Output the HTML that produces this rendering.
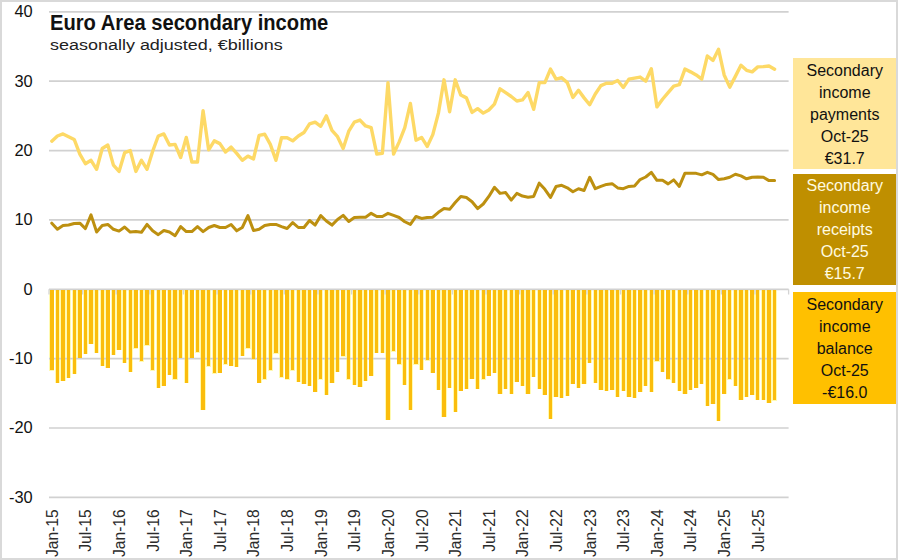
<!DOCTYPE html>
<html><head><meta charset="utf-8"><title>Euro Area secondary income</title>
<style>
html,body{margin:0;padding:0;background:#fff;}
body{width:898px;height:560px;position:relative;overflow:hidden;font-family:"Liberation Sans",sans-serif;}
svg text{font-family:"Liberation Sans",sans-serif;}
.frame{position:absolute;left:0;top:0;width:898px;height:560px;box-sizing:border-box;border:2px solid #d9d9d9;border-top-width:2px;}
.ttl{position:absolute;left:50px;top:11.3px;font-weight:bold;font-size:21.4px;line-height:24px;color:#111;white-space:nowrap;transform-origin:0 0;transform:scaleX(0.9427);}
.sub{position:absolute;left:50px;top:35.1px;font-size:15.5px;line-height:20px;color:#222;white-space:nowrap;transform-origin:0 0;transform:scaleX(1.159);}
.lg{position:absolute;left:793px;width:103.5px;text-align:center;font-size:16px;line-height:22px;color:#111;box-sizing:border-box;}
</style></head><body>
<svg width="898" height="560" viewBox="0 0 898 560" style="position:absolute;left:0;top:0">
<path d="M49.20 290.00h5.20v80.95h-5.20zM54.80 290.00h5.20v93.16h-5.20zM60.41 290.00h5.20v91.22h-5.20zM66.01 290.00h5.20v88.16h-5.20zM71.61 290.00h5.20v84.07h-5.20zM77.22 290.00h5.20v68.47h-5.20zM82.82 290.00h5.20v64.24h-5.20zM88.42 290.00h5.20v54.39h-5.20zM94.03 290.00h5.20v63.13h-5.20zM99.63 290.00h5.20v76.10h-5.20zM105.23 290.00h5.20v78.18h-5.20zM110.83 290.00h5.20v65.00h-5.20zM116.44 290.00h5.20v60.14h-5.20zM122.04 290.00h5.20v73.04h-5.20zM127.64 290.00h5.20v82.13h-5.20zM133.25 290.00h5.20v58.76h-5.20zM138.85 290.00h5.20v71.93h-5.20zM144.45 290.00h5.20v55.98h-5.20zM150.06 290.00h5.20v80.95h-5.20zM155.66 290.00h5.20v98.29h-5.20zM161.26 290.00h5.20v96.21h-5.20zM166.86 290.00h5.20v85.11h-5.20zM172.47 290.00h5.20v89.97h-5.20zM178.07 290.00h5.20v68.47h-5.20zM183.67 290.00h5.20v93.16h-5.20zM189.28 290.00h5.20v68.47h-5.20zM194.88 290.00h5.20v62.85h-5.20zM200.48 290.00h5.20v120.00h-5.20zM206.09 290.00h5.20v76.79h-5.20zM211.69 290.00h5.20v83.93h-5.20zM217.29 290.00h5.20v83.03h-5.20zM222.89 290.00h5.20v74.99h-5.20zM228.50 290.00h5.20v76.10h-5.20zM234.10 290.00h5.20v77.14h-5.20zM239.70 290.00h5.20v66.18h-5.20zM245.31 290.00h5.20v58.76h-5.20zM250.91 290.00h5.20v69.85h-5.20zM256.51 290.00h5.20v93.16h-5.20zM262.12 290.00h5.20v89.97h-5.20zM267.72 290.00h5.20v80.95h-5.20zM273.32 290.00h5.20v63.61h-5.20zM278.92 290.00h5.20v87.89h-5.20zM284.53 290.00h5.20v89.97h-5.20zM290.13 290.00h5.20v80.95h-5.20zM295.73 290.00h5.20v92.05h-5.20zM301.34 290.00h5.20v94.13h-5.20zM306.94 290.00h5.20v96.21h-5.20zM312.54 290.00h5.20v102.31h-5.20zM318.15 290.00h5.20v89.97h-5.20zM323.75 290.00h5.20v105.23h-5.20zM329.35 290.00h5.20v93.16h-5.20zM334.95 290.00h5.20v82.13h-5.20zM340.56 290.00h5.20v66.94h-5.20zM346.16 290.00h5.20v89.97h-5.20zM351.76 290.00h5.20v95.31h-5.20zM357.37 290.00h5.20v97.25h-5.20zM362.97 290.00h5.20v91.22h-5.20zM368.57 290.00h5.20v86.22h-5.20zM374.18 290.00h5.20v63.13h-5.20zM379.78 290.00h5.20v63.13h-5.20zM385.38 290.00h5.20v130.20h-5.20zM390.98 290.00h5.20v61.95h-5.20zM396.59 290.00h5.20v74.99h-5.20zM402.19 290.00h5.20v95.31h-5.20zM407.79 290.00h5.20v120.00h-5.20zM413.40 290.00h5.20v74.99h-5.20zM419.00 290.00h5.20v80.12h-5.20zM424.60 290.00h5.20v70.76h-5.20zM430.21 290.00h5.20v83.03h-5.20zM435.81 290.00h5.20v100.37h-5.20zM441.41 290.00h5.20v127.14h-5.20zM447.01 290.00h5.20v98.29h-5.20zM452.62 290.00h5.20v122.01h-5.20zM458.22 290.00h5.20v101.07h-5.20zM463.82 290.00h5.20v99.26h-5.20zM469.43 290.00h5.20v89.27h-5.20zM475.03 290.00h5.20v99.26h-5.20zM480.63 290.00h5.20v89.97h-5.20zM486.24 290.00h5.20v86.22h-5.20zM491.84 290.00h5.20v83.03h-5.20zM497.44 290.00h5.20v104.39h-5.20zM503.04 290.00h5.20v99.26h-5.20zM508.65 290.00h5.20v104.39h-5.20zM514.25 290.00h5.20v92.05h-5.20zM519.85 290.00h5.20v96.21h-5.20zM525.46 290.00h5.20v104.39h-5.20zM531.06 290.00h5.20v87.19h-5.20zM536.66 290.00h5.20v99.26h-5.20zM542.27 290.00h5.20v105.23h-5.20zM547.87 290.00h5.20v129.16h-5.20zM553.47 290.00h5.20v107.31h-5.20zM559.07 290.00h5.20v108.35h-5.20zM564.68 290.00h5.20v106.41h-5.20zM570.28 290.00h5.20v94.13h-5.20zM575.88 290.00h5.20v98.29h-5.20zM581.49 290.00h5.20v94.13h-5.20zM587.09 290.00h5.20v73.04h-5.20zM592.69 290.00h5.20v93.16h-5.20zM598.30 290.00h5.20v100.37h-5.20zM603.90 290.00h5.20v101.07h-5.20zM609.50 290.00h5.20v100.37h-5.20zM615.10 290.00h5.20v107.31h-5.20zM620.71 290.00h5.20v101.07h-5.20zM626.31 290.00h5.20v107.10h-5.20zM631.91 290.00h5.20v108.35h-5.20zM637.52 290.00h5.20v102.31h-5.20zM643.12 290.00h5.20v96.21h-5.20zM648.72 290.00h5.20v102.31h-5.20zM654.33 290.00h5.20v71.93h-5.20zM659.93 290.00h5.20v82.13h-5.20zM665.53 290.00h5.20v89.97h-5.20zM671.13 290.00h5.20v93.16h-5.20zM676.74 290.00h5.20v101.07h-5.20zM682.34 290.00h5.20v104.39h-5.20zM687.94 290.00h5.20v100.37h-5.20zM693.55 290.00h5.20v98.29h-5.20zM699.15 290.00h5.20v94.13h-5.20zM704.75 290.00h5.20v116.26h-5.20zM710.36 290.00h5.20v114.45h-5.20zM715.96 290.00h5.20v131.10h-5.20zM721.56 290.00h5.20v104.39h-5.20zM727.16 290.00h5.20v89.97h-5.20zM732.77 290.00h5.20v96.21h-5.20zM738.37 290.00h5.20v110.08h-5.20zM743.97 290.00h5.20v107.10h-5.20zM749.58 290.00h5.20v105.23h-5.20zM755.18 290.00h5.20v110.08h-5.20zM760.78 290.00h5.20v110.08h-5.20zM766.39 290.00h5.20v113.20h-5.20zM771.99 290.00h5.20v110.78h-5.20z" fill="#fffab2" shape-rendering="crispEdges"/>
<line x1="49" x2="788.6" y1="11.86" y2="11.86" stroke="#d1d1d1" stroke-width="1.7"/>
<line x1="49" x2="788.6" y1="81.22" y2="81.22" stroke="#d1d1d1" stroke-width="1.7"/>
<line x1="49" x2="788.6" y1="150.58" y2="150.58" stroke="#d1d1d1" stroke-width="1.7"/>
<line x1="49" x2="788.6" y1="219.94" y2="219.94" stroke="#d1d1d1" stroke-width="1.7"/>
<line x1="49" x2="788.6" y1="289.30" y2="289.30" stroke="#d1d1d1" stroke-width="1.7"/>
<line x1="49" x2="788.6" y1="358.66" y2="358.66" stroke="#d1d1d1" stroke-width="1.7"/>
<line x1="49" x2="788.6" y1="428.02" y2="428.02" stroke="#d1d1d1" stroke-width="1.7"/>
<line x1="49" x2="788.6" y1="497.38" y2="497.38" stroke="#d1d1d1" stroke-width="1.7"/>
<path d="M49.00 289.30V294.60M82.62 289.30V294.60M116.24 289.30V294.60M149.85 289.30V294.60M183.47 289.30V294.60M217.09 289.30V294.60M250.71 289.30V294.60M284.33 289.30V294.60M317.94 289.30V294.60M351.56 289.30V294.60M385.18 289.30V294.60M418.80 289.30V294.60M452.42 289.30V294.60M486.03 289.30V294.60M519.65 289.30V294.60M553.27 289.30V294.60M586.89 289.30V294.60M620.51 289.30V294.60M654.12 289.30V294.60M687.74 289.30V294.60M721.36 289.30V294.60M754.98 289.30V294.60M788.60 289.30V294.60" stroke="#d4d4d4" stroke-width="1.3" fill="none"/>
<path d="M50.10 290.00h3.40v80.45h-3.40zM55.70 290.00h3.40v92.66h-3.40zM61.31 290.00h3.40v90.72h-3.40zM66.91 290.00h3.40v87.66h-3.40zM72.51 290.00h3.40v83.57h-3.40zM78.12 290.00h3.40v67.97h-3.40zM83.72 290.00h3.40v63.74h-3.40zM89.32 290.00h3.40v53.89h-3.40zM94.93 290.00h3.40v62.63h-3.40zM100.53 290.00h3.40v75.60h-3.40zM106.13 290.00h3.40v77.68h-3.40zM111.73 290.00h3.40v64.50h-3.40zM117.34 290.00h3.40v59.64h-3.40zM122.94 290.00h3.40v72.54h-3.40zM128.54 290.00h3.40v81.63h-3.40zM134.15 290.00h3.40v58.26h-3.40zM139.75 290.00h3.40v71.43h-3.40zM145.35 290.00h3.40v55.48h-3.40zM150.96 290.00h3.40v80.45h-3.40zM156.56 290.00h3.40v97.79h-3.40zM162.16 290.00h3.40v95.71h-3.40zM167.76 290.00h3.40v84.61h-3.40zM173.37 290.00h3.40v89.47h-3.40zM178.97 290.00h3.40v67.97h-3.40zM184.57 290.00h3.40v92.66h-3.40zM190.18 290.00h3.40v67.97h-3.40zM195.78 290.00h3.40v62.35h-3.40zM201.38 290.00h3.40v119.50h-3.40zM206.99 290.00h3.40v76.29h-3.40zM212.59 290.00h3.40v83.43h-3.40zM218.19 290.00h3.40v82.53h-3.40zM223.79 290.00h3.40v74.49h-3.40zM229.40 290.00h3.40v75.60h-3.40zM235.00 290.00h3.40v76.64h-3.40zM240.60 290.00h3.40v65.68h-3.40zM246.21 290.00h3.40v58.26h-3.40zM251.81 290.00h3.40v69.35h-3.40zM257.41 290.00h3.40v92.66h-3.40zM263.02 290.00h3.40v89.47h-3.40zM268.62 290.00h3.40v80.45h-3.40zM274.22 290.00h3.40v63.11h-3.40zM279.82 290.00h3.40v87.39h-3.40zM285.43 290.00h3.40v89.47h-3.40zM291.03 290.00h3.40v80.45h-3.40zM296.63 290.00h3.40v91.55h-3.40zM302.24 290.00h3.40v93.63h-3.40zM307.84 290.00h3.40v95.71h-3.40zM313.44 290.00h3.40v101.81h-3.40zM319.05 290.00h3.40v89.47h-3.40zM324.65 290.00h3.40v104.73h-3.40zM330.25 290.00h3.40v92.66h-3.40zM335.85 290.00h3.40v81.63h-3.40zM341.46 290.00h3.40v66.44h-3.40zM347.06 290.00h3.40v89.47h-3.40zM352.66 290.00h3.40v94.81h-3.40zM358.27 290.00h3.40v96.75h-3.40zM363.87 290.00h3.40v90.72h-3.40zM369.47 290.00h3.40v85.72h-3.40zM375.08 290.00h3.40v62.63h-3.40zM380.68 290.00h3.40v62.63h-3.40zM386.28 290.00h3.40v129.70h-3.40zM391.88 290.00h3.40v61.45h-3.40zM397.49 290.00h3.40v74.49h-3.40zM403.09 290.00h3.40v94.81h-3.40zM408.69 290.00h3.40v119.50h-3.40zM414.30 290.00h3.40v74.49h-3.40zM419.90 290.00h3.40v79.62h-3.40zM425.50 290.00h3.40v70.26h-3.40zM431.11 290.00h3.40v82.53h-3.40zM436.71 290.00h3.40v99.87h-3.40zM442.31 290.00h3.40v126.64h-3.40zM447.91 290.00h3.40v97.79h-3.40zM453.52 290.00h3.40v121.51h-3.40zM459.12 290.00h3.40v100.57h-3.40zM464.72 290.00h3.40v98.76h-3.40zM470.33 290.00h3.40v88.77h-3.40zM475.93 290.00h3.40v98.76h-3.40zM481.53 290.00h3.40v89.47h-3.40zM487.14 290.00h3.40v85.72h-3.40zM492.74 290.00h3.40v82.53h-3.40zM498.34 290.00h3.40v103.89h-3.40zM503.94 290.00h3.40v98.76h-3.40zM509.55 290.00h3.40v103.89h-3.40zM515.15 290.00h3.40v91.55h-3.40zM520.75 290.00h3.40v95.71h-3.40zM526.36 290.00h3.40v103.89h-3.40zM531.96 290.00h3.40v86.69h-3.40zM537.56 290.00h3.40v98.76h-3.40zM543.17 290.00h3.40v104.73h-3.40zM548.77 290.00h3.40v128.66h-3.40zM554.37 290.00h3.40v106.81h-3.40zM559.97 290.00h3.40v107.85h-3.40zM565.58 290.00h3.40v105.91h-3.40zM571.18 290.00h3.40v93.63h-3.40zM576.78 290.00h3.40v97.79h-3.40zM582.39 290.00h3.40v93.63h-3.40zM587.99 290.00h3.40v72.54h-3.40zM593.59 290.00h3.40v92.66h-3.40zM599.20 290.00h3.40v99.87h-3.40zM604.80 290.00h3.40v100.57h-3.40zM610.40 290.00h3.40v99.87h-3.40zM616.00 290.00h3.40v106.81h-3.40zM621.61 290.00h3.40v100.57h-3.40zM627.21 290.00h3.40v106.60h-3.40zM632.81 290.00h3.40v107.85h-3.40zM638.42 290.00h3.40v101.81h-3.40zM644.02 290.00h3.40v95.71h-3.40zM649.62 290.00h3.40v101.81h-3.40zM655.23 290.00h3.40v71.43h-3.40zM660.83 290.00h3.40v81.63h-3.40zM666.43 290.00h3.40v89.47h-3.40zM672.03 290.00h3.40v92.66h-3.40zM677.64 290.00h3.40v100.57h-3.40zM683.24 290.00h3.40v103.89h-3.40zM688.84 290.00h3.40v99.87h-3.40zM694.45 290.00h3.40v97.79h-3.40zM700.05 290.00h3.40v93.63h-3.40zM705.65 290.00h3.40v115.76h-3.40zM711.26 290.00h3.40v113.95h-3.40zM716.86 290.00h3.40v130.60h-3.40zM722.46 290.00h3.40v103.89h-3.40zM728.06 290.00h3.40v89.47h-3.40zM733.67 290.00h3.40v95.71h-3.40zM739.27 290.00h3.40v109.58h-3.40zM744.87 290.00h3.40v106.60h-3.40zM750.48 290.00h3.40v104.73h-3.40zM756.08 290.00h3.40v109.58h-3.40zM761.68 290.00h3.40v109.58h-3.40zM767.29 290.00h3.40v112.70h-3.40zM772.89 290.00h3.40v110.28h-3.40z" fill="#fbbd0c" shape-rendering="crispEdges"/>
<polyline points="51.80,141.15 57.40,136.01 63.01,133.93 68.61,136.71 74.21,139.48 79.82,154.05 85.42,163.76 91.02,160.29 96.63,169.31 102.23,148.50 107.83,145.03 113.43,165.15 119.04,171.39 124.64,152.66 130.24,150.58 135.85,171.39 141.45,160.29 147.05,169.31 152.66,151.27 158.26,136.01 163.86,133.93 169.46,145.03 175.07,144.34 180.67,157.52 186.27,137.40 191.88,162.02 197.48,162.02 203.08,110.70 208.69,149.89 214.29,140.87 219.89,143.64 225.49,151.97 231.10,147.11 236.70,153.35 242.30,160.29 247.91,156.13 253.51,158.90 259.11,135.32 264.72,134.28 270.32,144.34 275.92,160.29 281.52,137.75 287.13,137.75 292.73,140.87 298.33,136.01 303.94,132.55 309.54,123.88 315.14,122.14 320.75,126.30 326.35,115.90 331.95,130.47 337.55,136.71 343.16,148.50 348.76,131.16 354.36,122.14 359.97,120.06 365.57,125.96 371.17,127.69 376.78,154.05 382.38,153.35 387.98,82.61 393.58,154.05 399.19,141.91 404.79,127.69 410.39,103.42 416.00,140.18 421.60,137.40 427.20,146.42 432.81,134.63 438.41,113.13 444.01,79.83 449.61,111.74 455.22,79.83 460.82,95.09 466.42,97.87 472.03,112.43 477.63,108.62 483.23,113.13 488.84,110.00 494.44,104.11 500.04,88.85 505.64,92.66 511.25,96.48 516.85,100.99 522.45,99.95 528.06,92.66 533.66,109.31 539.26,82.61 544.87,82.61 550.47,69.08 556.07,79.14 561.67,77.75 567.28,82.61 572.88,97.52 578.48,90.24 584.09,97.87 589.69,104.80 595.29,94.05 600.90,85.66 606.50,83.30 612.10,83.30 617.70,80.53 623.31,87.46 628.91,79.14 634.51,78.10 640.12,77.06 645.72,81.22 651.32,68.74 656.93,106.88 662.53,99.25 668.13,92.66 673.73,86.08 679.34,84.69 684.94,69.08 690.54,71.86 696.15,74.98 701.75,79.14 707.35,55.97 712.96,60.41 718.56,49.31 724.16,74.98 729.76,87.12 735.37,76.36 740.97,65.27 746.57,70.33 752.18,71.86 757.78,66.86 763.38,66.65 768.99,65.96 774.59,69.15" fill="none" stroke="#fdd966" stroke-width="3.4" stroke-linejoin="round" stroke-linecap="round"/>
<polyline points="51.80,223.20 57.40,229.30 63.01,225.49 68.61,225.07 74.21,223.55 79.82,223.20 85.42,228.54 91.02,214.88 96.63,232.01 102.23,225.49 107.83,224.45 113.43,229.30 119.04,231.11 124.64,227.01 130.24,232.01 135.85,231.59 141.45,232.36 147.05,224.45 152.66,230.83 158.26,234.64 163.86,230.55 169.46,232.01 175.07,235.68 180.67,226.60 186.27,231.59 191.88,231.59 197.48,226.60 203.08,231.59 208.69,227.50 214.29,225.49 219.89,227.50 225.49,227.50 231.10,224.45 236.70,230.83 242.30,227.50 247.91,215.64 253.51,230.55 259.11,229.30 264.72,225.49 270.32,224.45 275.92,224.45 281.52,226.60 287.13,228.54 292.73,222.51 298.33,227.50 303.94,227.50 309.54,220.49 315.14,225.07 320.75,215.64 326.35,220.98 331.95,225.07 337.55,219.45 343.16,215.36 348.76,221.40 354.36,217.51 359.97,217.17 365.57,217.17 371.17,213.35 376.78,216.47 382.38,216.47 387.98,213.35 393.58,215.36 399.19,217.51 404.79,221.74 410.39,224.45 416.00,216.47 421.60,218.41 427.20,217.51 432.81,217.17 438.41,212.31 444.01,208.56 449.61,209.33 455.22,202.46 460.82,196.43 466.42,197.47 472.03,201.70 477.63,208.56 483.23,203.99 488.84,196.43 494.44,187.34 500.04,193.38 505.64,192.61 511.25,200.17 516.85,193.38 522.45,196.08 528.06,197.19 533.66,196.43 539.26,183.18 544.87,189.28 550.47,197.47 556.07,186.51 561.67,185.33 567.28,187.83 572.88,191.71 578.48,188.73 584.09,190.53 589.69,177.28 595.29,188.73 600.90,186.44 606.50,184.43 612.10,183.66 617.70,187.90 623.31,188.73 628.91,186.44 634.51,186.09 640.12,179.57 645.72,177.01 651.32,172.29 656.93,180.34 662.53,180.34 668.13,183.87 673.73,179.85 679.34,186.44 684.94,173.19 690.54,173.19 696.15,173.33 701.75,174.86 707.35,172.29 712.96,174.30 718.56,179.57 724.16,178.81 729.76,177.28 735.37,174.30 740.97,175.83 746.57,178.81 752.18,177.28 757.78,177.01 763.38,177.28 768.99,180.61 774.59,180.61" fill="none" stroke="#bd9010" stroke-width="3.0" stroke-linejoin="round" stroke-linecap="round"/>
<text transform="translate(57.70,509.3) rotate(-90)" text-anchor="end" font-size="15.6" fill="#2b2b2b">Jan-15</text>
<text transform="translate(91.32,509.3) rotate(-90)" text-anchor="end" font-size="15.6" fill="#2b2b2b">Jul-15</text>
<text transform="translate(124.94,509.3) rotate(-90)" text-anchor="end" font-size="15.6" fill="#2b2b2b">Jan-16</text>
<text transform="translate(158.56,509.3) rotate(-90)" text-anchor="end" font-size="15.6" fill="#2b2b2b">Jul-16</text>
<text transform="translate(192.17,509.3) rotate(-90)" text-anchor="end" font-size="15.6" fill="#2b2b2b">Jan-17</text>
<text transform="translate(225.79,509.3) rotate(-90)" text-anchor="end" font-size="15.6" fill="#2b2b2b">Jul-17</text>
<text transform="translate(259.41,509.3) rotate(-90)" text-anchor="end" font-size="15.6" fill="#2b2b2b">Jan-18</text>
<text transform="translate(293.03,509.3) rotate(-90)" text-anchor="end" font-size="15.6" fill="#2b2b2b">Jul-18</text>
<text transform="translate(326.65,509.3) rotate(-90)" text-anchor="end" font-size="15.6" fill="#2b2b2b">Jan-19</text>
<text transform="translate(360.26,509.3) rotate(-90)" text-anchor="end" font-size="15.6" fill="#2b2b2b">Jul-19</text>
<text transform="translate(393.88,509.3) rotate(-90)" text-anchor="end" font-size="15.6" fill="#2b2b2b">Jan-20</text>
<text transform="translate(427.50,509.3) rotate(-90)" text-anchor="end" font-size="15.6" fill="#2b2b2b">Jul-20</text>
<text transform="translate(461.12,509.3) rotate(-90)" text-anchor="end" font-size="15.6" fill="#2b2b2b">Jan-21</text>
<text transform="translate(494.74,509.3) rotate(-90)" text-anchor="end" font-size="15.6" fill="#2b2b2b">Jul-21</text>
<text transform="translate(528.35,509.3) rotate(-90)" text-anchor="end" font-size="15.6" fill="#2b2b2b">Jan-22</text>
<text transform="translate(561.97,509.3) rotate(-90)" text-anchor="end" font-size="15.6" fill="#2b2b2b">Jul-22</text>
<text transform="translate(595.59,509.3) rotate(-90)" text-anchor="end" font-size="15.6" fill="#2b2b2b">Jan-23</text>
<text transform="translate(629.21,509.3) rotate(-90)" text-anchor="end" font-size="15.6" fill="#2b2b2b">Jul-23</text>
<text transform="translate(662.83,509.3) rotate(-90)" text-anchor="end" font-size="15.6" fill="#2b2b2b">Jan-24</text>
<text transform="translate(696.44,509.3) rotate(-90)" text-anchor="end" font-size="15.6" fill="#2b2b2b">Jul-24</text>
<text transform="translate(730.06,509.3) rotate(-90)" text-anchor="end" font-size="15.6" fill="#2b2b2b">Jan-25</text>
<text transform="translate(763.68,509.3) rotate(-90)" text-anchor="end" font-size="15.6" fill="#2b2b2b">Jul-25</text>
<text x="32.7" y="17.16" text-anchor="end" font-size="16.4" fill="#111">40</text>
<text x="32.7" y="86.52" text-anchor="end" font-size="16.4" fill="#111">30</text>
<text x="32.7" y="155.88" text-anchor="end" font-size="16.4" fill="#111">20</text>
<text x="32.7" y="225.24" text-anchor="end" font-size="16.4" fill="#111">10</text>
<text x="32.7" y="294.60" text-anchor="end" font-size="16.4" fill="#111">0</text>
<text x="32.7" y="363.96" text-anchor="end" font-size="16.4" fill="#111">-10</text>
<text x="32.7" y="433.32" text-anchor="end" font-size="16.4" fill="#111">-20</text>
<text x="32.7" y="502.68" text-anchor="end" font-size="16.4" fill="#111">-30</text>
</svg>
<div class="ttl" id="ttl">Euro Area secondary income</div>
<div class="sub" id="sub">seasonally adjusted, €billions</div>
<div class="lg" style="top:58.2px;height:111.3px;background:#ffe699;padding-top:2.2px">Secondary<br>income<br>payments<br>Oct-25<br>€31.7</div>
<div class="lg" style="top:174.1px;height:110.6px;background:#bf8f00;color:#fffbe0;padding-top:0.8px">Secondary<br>income<br>receipts<br>Oct-25<br>€15.7</div>
<div class="lg" style="top:292px;height:111.6px;background:#ffc000;padding-top:1.6px">Secondary<br>income<br>balance<br>Oct-25<br>-€16.0</div>
<div class="frame"></div>
</body></html>
